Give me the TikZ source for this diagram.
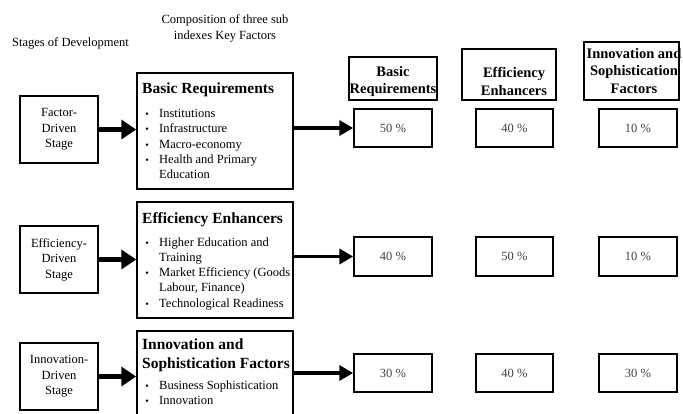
\documentclass[tikz,border=0pt]{standalone}
\usepackage{fontspec}
\setmainfont{Liberation Serif}
\usetikzlibrary{arrows.meta}
\begin{document}
\begin{tikzpicture}[x=1pt,y=-1pt,
  box/.style={draw,line width=1.5pt,inner sep=0pt},
  stagebox/.style={box,minimum width=78pt,minimum height=67pt,align=center,font=\fontsize{12.5}{15.5}\selectfont},
  catbox/.style={box,minimum width=156pt,minimum height=116pt},
  pctbox/.style={box,minimum width=78pt,minimum height=38pt,font=\fontsize{12.5}{14}\selectfont\color{black!75}},
  hdrtxt/.style={inner sep=0pt,align=center,font=\bfseries\fontsize{14.5}{17.5}\selectfont},
  ttl/.style={inner sep=0pt,anchor=base west,font=\bfseries\fontsize{15.5}{18}\selectfont},
  itm/.style={inner sep=0pt,anchor=base west,font=\fontsize{12.5}{15}\selectfont},
  bul/.style={inner sep=0pt,anchor=base,font=\fontsize{10}{12}\selectfont},
  plain/.style={inner sep=0pt,anchor=base,font=\fontsize{12.5}{15}\selectfont},
  bigarrow/.style={line width=4.5pt,-{Triangle[length=15pt,width=19pt]}},
  midarrow/.style={line width=3.5pt,-{Triangle[length=14pt,width=15pt]}}
]
\clip (0,0) rectangle (683,413);
\useasboundingbox (0,0) rectangle (683,413);

% top labels
\node[plain,anchor=base west] (lstages) at (12,46) {Stages of Development};
\node[plain] (lcomp1) at (225,23) {Composition of three sub};
\node[plain] (lcomp2) at (225,39) {indexes Key Factors};

% header boxes
\node[box,minimum width=88pt,minimum height=43pt] (h1) at (393,78.5) {};
\node[box,minimum width=94pt,minimum height=51pt] (h2) at (509,74.5) {};
\node[box,minimum width=95pt,minimum height=58pt] (h3) at (631.5,71) {};
\node[hdrtxt] (h1t) at (393,81.5) {Basic\\Requirements};
\node[hdrtxt] (h2t) at (514,81.5) {Efficiency\\Enhancers};
\node[hdrtxt] (h3t) at (634,71) {Innovation and\\Sophistication\\Factors};

% stage boxes
\node[stagebox] (s1) at (59,129.5) {Factor-\\Driven\\Stage};
\node[stagebox] (s2) at (59,259.5) {Efficiency-\\Driven\\Stage};
\node[stagebox] (s3) at (59,376.5) {Innovation-\\Driven\\Stage};

% category boxes
\node[catbox] (c1) at (215,131) {};
\node[catbox] (c2) at (215,260) {};
\node[catbox] (c3) at (215,389) {};

% c1 content
\node[ttl] (c1t) at (142,93) {Basic Requirements};
\node[bul] (c1b1) at (147,117) {\textbullet};
\node[itm] (c1i1) at (159,117) {Institutions};
\node[bul] (c1b2) at (147,132) {\textbullet};
\node[itm] (c1i2) at (159,132) {Infrastructure};
\node[bul] (c1b3) at (147,148) {\textbullet};
\node[itm] (c1i3) at (159,148) {Macro-economy};
\node[bul] (c1b4) at (147,163) {\textbullet};
\node[itm] (c1i4) at (159,163) {Health and Primary};
\node[itm] (c1i5) at (159,178) {Education};

% c2 content
\node[ttl] (c2t) at (142,223) {Efficiency Enhancers};
\node[bul] (c2b1) at (147,246) {\textbullet};
\node[itm] (c2i1) at (159,246) {Higher Education and};
\node[itm] (c2i2) at (159,261) {Training};
\node[bul] (c2b2) at (147,276) {\textbullet};
\node[itm] (c2i3) at (159,276) {Market Efficiency (Goods};
\node[itm] (c2i4) at (159,291) {Labour, Finance)};
\node[bul] (c2b3) at (147,307) {\textbullet};
\node[itm] (c2i5) at (159,307) {Technological Readiness};

% c3 content
\node[ttl] (c3t1) at (142,349) {Innovation and};
\node[ttl] (c3t2) at (142,368) {Sophistication Factors};
\node[bul] (c3b1) at (147,389) {\textbullet};
\node[itm] (c3i1) at (159,389) {Business Sophistication};
\node[bul] (c3b2) at (147,404) {\textbullet};
\node[itm] (c3i2) at (159,404) {Innovation};

% percentage boxes
\node[pctbox] (p11) at (393,128) {50 \%};
\node[pctbox,minimum width=77pt] (p12) at (514.5,128) {40 \%};
\node[pctbox] (p13) at (638,128) {10 \%};
\node[pctbox,minimum height=39pt] (p21) at (393,256.5) {40 \%};
\node[pctbox,minimum width=77pt,minimum height=39pt] (p22) at (514.5,256.5) {50 \%};
\node[pctbox,minimum height=39pt] (p23) at (638,256.5) {10 \%};
\node[pctbox] (p31) at (393,373) {30 \%};
\node[pctbox,minimum width=77pt] (p32) at (514.5,373) {40 \%};
\node[pctbox] (p33) at (638,373) {30 \%};

% arrows stage -> category
\draw[bigarrow] (s1.east) -- (s1.east -| c1.west);
\draw[bigarrow] (s2.east) -- (s2.east -| c2.west);
\draw[bigarrow] (s3.east) -- (s3.east -| c3.west);

% arrows category -> percentages
\draw[midarrow] (c1.east |- p11.west) -- (p11.west);
\draw[midarrow] (c2.east |- p21.west) -- (p21.west);
\draw[midarrow] (c3.east |- p31.west) -- (p31.west);
\end{tikzpicture}
\end{document}
